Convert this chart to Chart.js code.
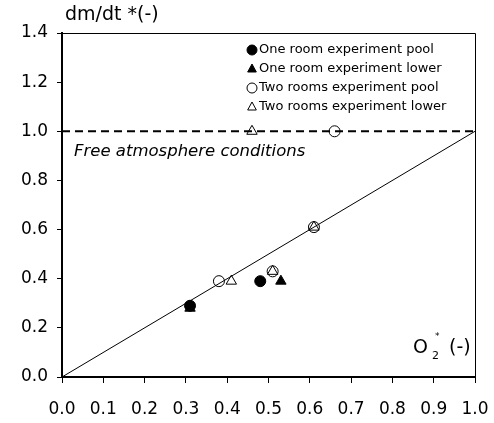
<!DOCTYPE html>
<html>
<head>
<meta charset="utf-8">
<script src="https://cdn.jsdelivr.net/npm/chart.js@4/dist/chart.umd.min.js"></script>
<style>
  html, body { margin: 0; padding: 0; background: #fff; }
  #wrap { width: 494px; height: 423px; }
</style>
</head>
<body>
<div id="wrap"><canvas id="c" width="494" height="423"></canvas></div>
<script>
// Normalised oxygen concentration (x) vs normalised mass loss rate (y)
const onePoolX  = [0.31, 0.48];
const onePoolY  = [0.29, 0.39];
const oneLowerX = [0.31, 0.53];
const oneLowerY = [0.28, 0.39];
const twoPoolX  = [0.38, 0.51, 0.61, 0.66];
const twoPoolY  = [0.39, 0.43, 0.61, 1.00];
const twoLowerX = [0.41, 0.51, 0.61, 0.46];
const twoLowerY = [0.39, 0.43, 0.61, 1.00];

// Reference lines: linear relation and free-atmosphere level
const linearX = [0, 1];
const linearY = [0, 1];
const freeAtmX = [0, 1];
const freeAtmY = [1, 1];

const seriesLabels = [
  'One room experiment pool',
  'One room experiment lower',
  'Two rooms experiment pool',
  'Two rooms experiment lower'
];
const xTicks = [0, 0.1, 0.2, 0.3, 0.4, 0.5, 0.6, 0.7, 0.8, 0.9, 1.0];
const yTicks = [0, 0.2, 0.4, 0.6, 0.8, 1.0, 1.2, 1.4];

const FONT = '"DejaVu Sans", Verdana, sans-serif';
const zip = (xs, ys) => xs.map((x, i) => ({ x: x, y: ys[i] }));

const markers = [
  { style: 'circle',   fill: '#000', radius: 5.5 },
  { style: 'triangle', fill: '#000', radius: 6 },
  { style: 'circle',   fill: 'rgba(0,0,0,0)', radius: 5.5 },
  { style: 'triangle', fill: 'rgba(0,0,0,0)', radius: 6 }
];
const pointSets = [
  zip(onePoolX, onePoolY),
  zip(oneLowerX, oneLowerY),
  zip(twoPoolX, twoPoolY),
  zip(twoLowerX, twoLowerY)
];

const scatterSets = pointSets.map((pts, i) => ({
  label: seriesLabels[i],
  data: pts,
  showLine: false,
  pointStyle: markers[i].style,
  pointRadius: markers[i].radius,
  pointBackgroundColor: markers[i].fill,
  pointBorderColor: '#000',
  pointBorderWidth: 1,
  order: 1
}));

const datasets = scatterSets.concat([
  {
    label: 'linear',
    data: zip(linearX, linearY),
    showLine: true,
    borderColor: '#000',
    borderWidth: 1,
    pointRadius: 0,
    fill: false,
    order: 2
  },
  {
    label: 'free',
    data: zip(freeAtmX, freeAtmY),
    showLine: true,
    borderColor: '#000',
    borderWidth: 2,
    borderDash: [8, 5],
    pointRadius: 0,
    fill: false,
    order: 0
  }
]);

function drawMarker(ctx, style, fill, x, y, r) {
  ctx.save();
  ctx.beginPath();
  if (style === 'circle') {
    ctx.arc(x, y, r, 0, Math.PI * 2);
  } else {
    const dx = r * Math.sin(Math.PI / 3);
    ctx.moveTo(x, y - r);
    ctx.lineTo(x + dx, y + r * 0.5 + 0.5);
    ctx.lineTo(x - dx, y + r * 0.5 + 0.5);
    ctx.closePath();
  }
  ctx.fillStyle = fill;
  ctx.fill();
  ctx.strokeStyle = '#000';
  ctx.lineWidth = 1;
  ctx.stroke();
  ctx.restore();
}

const annotations = {
  id: 'annotations',
  beforeDatasetsDraw(chart) {
    const { ctx, chartArea: a } = chart;
    ctx.save();
    ctx.strokeStyle = '#000';
    ctx.lineWidth = 1;
    ctx.beginPath();
    ctx.moveTo(a.left, a.top + 0.5);
    ctx.lineTo(a.right + 0.5, a.top + 0.5);
    ctx.lineTo(a.right + 0.5, a.bottom);
    ctx.stroke();
    ctx.restore();
  },
  afterDraw(chart) {
    const { ctx } = chart;
    ctx.save();
    ctx.fillStyle = '#000';
    ctx.textBaseline = 'middle';
    ctx.textAlign = 'left';

    // y axis title above the axis
    ctx.font = '19px ' + FONT;
    ctx.fillText('dm/dt *(-)', 65, 15);

    // x axis title inside the plot corner
    ctx.font = '19px ' + FONT;
    ctx.fillText('O', 413, 348);
    ctx.font = '11px ' + FONT;
    ctx.fillText('2', 432, 356);
    ctx.font = '9px ' + FONT;
    ctx.fillText('*', 435, 337);
    ctx.font = '19px ' + FONT;
    ctx.fillText('(-)', 449, 348);

    // free atmosphere caption
    ctx.font = 'italic 16.5px ' + FONT;
    ctx.fillText('Free atmosphere conditions', 74, 152);

    // legend
    ctx.font = '13px ' + FONT;
    const lx = 252, ly0 = 50, step = 19;
    seriesLabels.forEach((lab, i) => {
      const y = ly0 + i * step;
      drawMarker(ctx, markers[i].style, i < 2 ? '#000' : '#fff', lx, y, 5);
      ctx.fillStyle = '#000';
      ctx.fillText(lab, lx + 7, y);
    });
    ctx.restore();
  }
};

new Chart(document.getElementById('c'), {
  type: 'scatter',
  data: { datasets: datasets },
  options: {
    responsive: false,
    animation: false,
    devicePixelRatio: 1,
    layout: { padding: { top: 33, right: 19, left: 0, bottom: 0 } },
    plugins: { legend: { display: false }, tooltip: { enabled: false } },
    scales: {
      x: {
        type: 'linear',
        min: 0, max: 1,
        afterFit(scale) {
          scale.height = 46;
          scale.paddingLeft = 0;
          scale.paddingRight = 0;
        },
        afterBuildTicks(scale) { scale.ticks = xTicks.map(v => ({ value: v })); },
        border: { color: '#000', width: 2 },
        grid: { drawOnChartArea: false, drawTicks: true, tickLength: 6, color: '#000', lineWidth: 1 },
        ticks: {
          color: '#000',
          font: { family: FONT, size: 17 },
          padding: 16,
          maxRotation: 0,
          autoSkip: false,
          callback: v => Number(v).toFixed(1)
        }
      },
      y: {
        type: 'linear',
        min: 0, max: 1.4,
        afterFit(scale) {
          scale.width = 62;
          scale.paddingTop = 0;
          scale.paddingBottom = 0;
        },
        afterBuildTicks(scale) { scale.ticks = yTicks.map(v => ({ value: v })); },
        border: { color: '#000', width: 2 },
        grid: { drawOnChartArea: false, drawTicks: true, tickLength: 5, color: '#000', lineWidth: 1 },
        ticks: {
          color: '#000',
          font: { family: FONT, size: 17 },
          padding: 9,
          autoSkip: false,
          callback: v => Number(v).toFixed(1)
        }
      }
    }
  },
  plugins: [annotations]
});
</script>
</body>
</html>
